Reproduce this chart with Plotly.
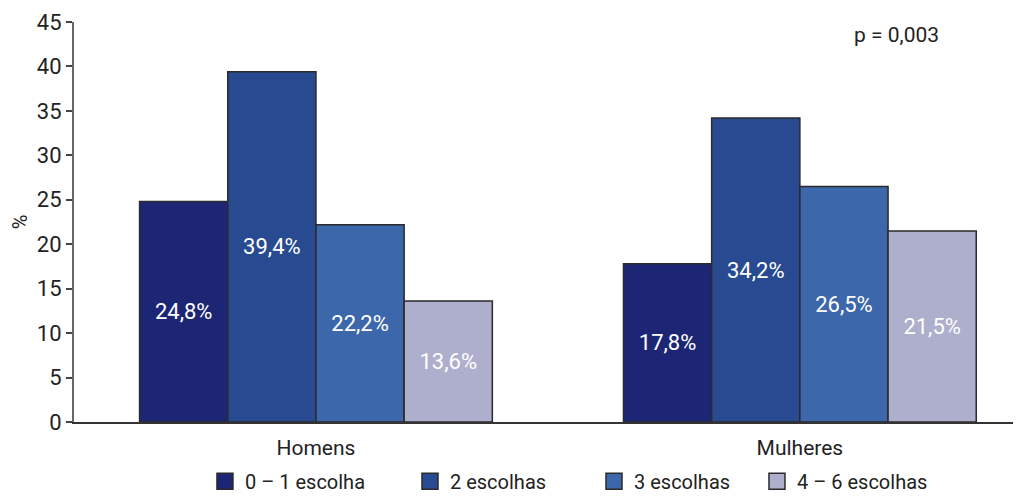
import plotly.graph_objects as go

categories = ["Homens", "Mulheres"]
series_names = ["0 – 1 escolha", "2 escolhas", "3 escolhas", "4 – 6 escolhas"]
values = [
    [24.8, 17.8],
    [39.4, 34.2],
    [22.2, 26.5],
    [13.6, 21.5],
]
labels = [
    ["24,8%", "17,8%"],
    ["39,4%", "34,2%"],
    ["22,2%", "26,5%"],
    ["13,6%", "21,5%"],
]
colors = ["#1c2674", "#284a91", "#3c67aa", "#aeaecd"]
y_ticks = [0, 5, 10, 15, 20, 25, 30, 35, 40, 45]

FONT = "Roboto"
EDGE = "#2a2a2a"
legend_ids = ["legend", "legend2", "legend3", "legend4"]
legend_x = [0.1383, 0.3548, 0.5491, 0.7212]

fig = go.Figure()
for name, vals, labs, col in zip(series_names, values, labels, colors):
    fig.add_trace(go.Bar(
        x=categories, y=vals, name=name, text=labs,
        textposition="inside", insidetextanchor="middle",
        textfont=dict(color="white", size=22, family=FONT),
        marker=dict(color=col, line=dict(color=EDGE, width=1.5)),
        textangle=0, showlegend=False, legendgroup=name,
    ))
for name, col, lid in zip(series_names, colors, legend_ids):
    fig.add_trace(go.Scatter(
        x=[None], y=[None], mode="markers", name=name, legendgroup=name, legend=lid,
        marker=dict(symbol="square", size=16, color=col, line=dict(color=EDGE, width=1.5)),
        showlegend=True,
    ))

legend_common = dict(orientation="h", xanchor="left", y=-0.148, yanchor="middle",
                     font=dict(size=20, family=FONT), itemwidth=30, itemsizing="trace",
                     bgcolor="rgba(0,0,0,0)", borderwidth=0)
fig.update_layout(
    barmode="group", bargap=0.271, bargroupgap=0,
    width=1013, height=489,
    margin=dict(l=66, r=0, t=14, b=75, autoexpand=False),
    plot_bgcolor="white", paper_bgcolor="white",
    font=dict(family=FONT, color="#222222", size=21),
    showlegend=True,
    legend=dict(x=legend_x[0], **legend_common),
    legend2=dict(x=legend_x[1], **legend_common),
    legend3=dict(x=legend_x[2], **legend_common),
    legend4=dict(x=legend_x[3], **legend_common),
)
fig.update_xaxes(range=[-0.5, 1.457], showline=True, linecolor="#333333", linewidth=1.5,
                 ticks="outside", ticklen=6, tickcolor="rgba(0,0,0,0)",
                 tickfont=dict(size=21), automargin=False)
fig.update_yaxes(range=[0, 45], tickvals=y_ticks, showgrid=False, zeroline=False,
                 showline=True, linecolor="#666666", linewidth=2,
                 ticks="outside", ticklen=6, tickcolor="#444444", tickwidth=1.5,
                 tickfont=dict(size=22), automargin=False,
                 title=dict(text="%", font=dict(size=20), standoff=6))
fig.add_annotation(text="p = 0,003", x=(896 - 74) / 947, y=(422 - 35) / 400,
                   xref="paper", yref="paper", xanchor="center", yanchor="middle",
                   showarrow=False, font=dict(size=21, family=FONT))

fig.write_html("out.html")
